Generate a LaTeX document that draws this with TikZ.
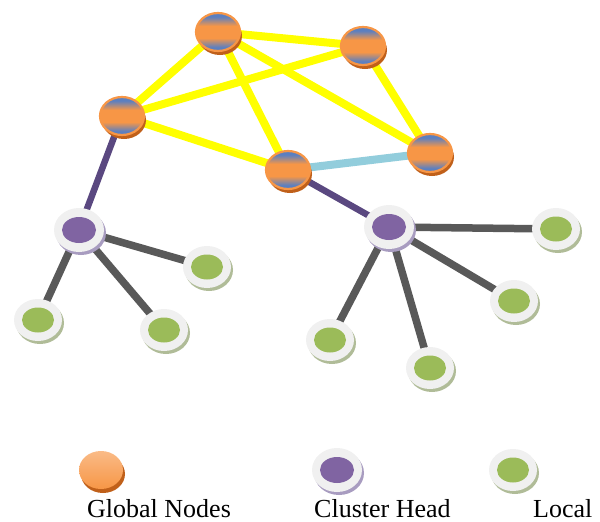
\documentclass[tikz,border=0pt]{standalone}
\usepackage{fontspec}
\setmainfont{Liberation Serif}
\usetikzlibrary{shapes.geometric,shadows,backgrounds}
\definecolor{gorange}{HTML}{F79646}
\definecolor{gdark}{HTML}{C0601A}
\definecolor{gblue}{HTML}{5B7FC0}
\definecolor{cpurple}{HTML}{8064A2}
\definecolor{cshadow}{HTML}{A89CC0}
\definecolor{lgreen}{HTML}{9BBB59}
\definecolor{lshadow}{HTML}{B0BC98}
\definecolor{ring}{HTML}{F0F0F0}
\definecolor{yel}{HTML}{FFFF00}
\definecolor{pedge}{HTML}{5A4880}
\definecolor{gedge}{HTML}{595959}
\definecolor{bedge}{HTML}{92CDDC}
\pgfdeclareverticalshading{globshade}{100bp}{
  color(0bp)=(gblue); color(30bp)=(gblue); color(42bp)=(gorange); color(58bp)=(gorange);
  color(70bp)=(gblue); color(100bp)=(gblue)}
\tikzset{
  glob/.style={ellipse, minimum width=44pt, minimum height=38pt, inner sep=0pt,
    shading=globshade, draw=gorange, line width=2.2pt,
    drop shadow={shadow xshift=2pt, shadow yshift=-4pt, fill=gdark, opacity=1}},
  globleg/.style={ellipse, minimum width=44pt, minimum height=38pt, inner sep=0pt,
    top color=gorange!65!white, bottom color=gorange, draw=none,
    drop shadow={shadow xshift=2pt, shadow yshift=-4pt, fill=gdark, opacity=1}},
  chead/.style={ellipse, minimum width=50pt, minimum height=44pt, inner sep=0pt, fill=ring,
    drop shadow={shadow xshift=2pt, shadow yshift=-3pt, fill=cshadow, opacity=1},
    path picture={\fill[cpurple] (path picture bounding box.center) ellipse (17pt and 13pt);}},
  loc/.style={ellipse, minimum width=48pt, minimum height=42pt, inner sep=0pt, fill=ring,
    drop shadow={shadow xshift=2pt, shadow yshift=-3pt, fill=lshadow, opacity=1},
    path picture={\fill[lgreen] (path picture bounding box.center) ellipse (16pt and 12.5pt);}},
  yedge/.style={yel, line width=8pt},
  pedg/.style={pedge, line width=6.5pt},
  gedg/.style={gedge, line width=7.5pt},
  bedg/.style={bedge, line width=8pt},
  lab/.style={anchor=base west, inner sep=0pt, font=\fontsize{26}{30}\selectfont}
}
\begin{document}
\begin{tikzpicture}[x=1pt,y=-1pt]
\useasboundingbox (0,0) rectangle (600,522);
% global nodes
\node[glob] (g1) at (218,32) {};
\node[glob] (g2) at (363,46) {};
\node[glob] (g3) at (122,116) {};
\node[glob] (g4) at (288,170) {};
\node[glob] (g5) at (430,153) {};
% cluster heads
\node[chead] (c1) at (79,230) {};
\node[chead] (c2) at (389,227) {};
% locals
\node[loc] (l1) at (207,267) {};
\node[loc] (l2) at (38,320) {};
\node[loc] (l3) at (164,330) {};
\node[loc] (l4) at (556,229) {};
\node[loc] (l5) at (514,301) {};
\node[loc] (l6) at (330,340) {};
\node[loc] (l7) at (430,368) {};
% legend
\node[globleg] (lg) at (101,470) {};
\node[chead] (lc) at (337,470) {};
\node[loc] (ll) at (513,470) {};
\node[lab] (t1) at (87,517) {Global Nodes};
\node[lab] (t2) at (314,517) {Cluster Head};
\node[lab] (t3) at (533,517) {Local};
\begin{pgfonlayer}{background}
\draw[yedge] (g1.center) -- (g2.center);
\draw[yedge] (g1.center) -- (g3.center);
\draw[yedge] (g1.center) -- (g4.center);
\draw[yedge] (g1.center) -- (g5.center);
\draw[yedge] (g2.center) -- (g3.center);
\draw[yedge] (g2.center) -- (g5.center);
\draw[yedge] (g3.center) -- (g4.center);
\draw[bedg] (g4.center) -- (g5.center);
\draw[pedg] (g3.center) -- (c1.center);
\draw[pedg] (g4.center) -- (c2.center);
\draw[gedg] (c1.center) -- (l1.center);
\draw[gedg] (c1.center) -- (l2.center);
\draw[gedg] (c1.center) -- (l3.center);
\draw[gedg] (c2.center) -- (l4.center);
\draw[gedg] (c2.center) -- (l5.center);
\draw[gedg] (c2.center) -- (l6.center);
\draw[gedg] (c2.center) -- (l7.center);
\end{pgfonlayer}
\end{tikzpicture}
\end{document}
